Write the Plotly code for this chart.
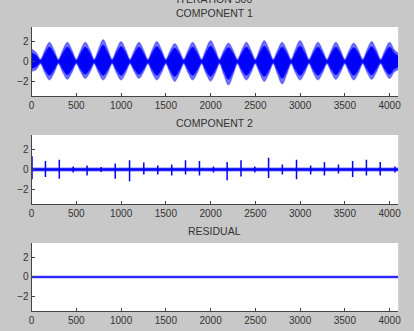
import plotly.graph_objects as go

# ---------------- data ----------------
# Component 1: envelopes of the dense oscillation, sampled every 50 samples
comp1_x = list(range(0, 4051, 50)) + [4096]
# outer (faint fringe) envelope
comp1_upper = [1.25, 0.9, 0.22, 1.15, 1.93, 1.15, 0.22, 1.15, 1.93, 1.15,
               0.22, 1.15, 1.93, 1.2, 0.22, 1.25, 2.2, 1.25, 0.22, 1.2,
               2.0, 1.2, 0.22, 1.15, 1.93, 1.15, 0.22, 1.2, 2.0, 1.2,
               0.22, 1.1, 1.8, 1.1, 0.22, 1.15, 1.93, 1.15, 0.22, 1.25,
               2.1, 1.25, 0.22, 1.15, 1.86, 1.15, 0.22, 1.15, 1.93, 1.15,
               0.22, 1.25, 2.1, 1.25, 0.22, 1.15, 1.93, 1.15, 0.22, 1.25,
               2.1, 1.25, 0.22, 1.15, 1.93, 1.15, 0.22, 1.15, 1.93, 1.15,
               0.22, 1.15, 1.86, 1.15, 0.22, 1.2, 2.0, 1.2, 0.22, 1.15,
               1.93, 1.2, 0.8]
comp1_lower = [-1.0, -0.8, -0.22, -1.15, -1.86, -1.15, -0.22, -1.1, -1.8, -1.1,
               -0.22, -1.05, -1.7, -1.1, -0.22, -1.15, -1.86, -1.15, -0.22, -1.15,
               -1.86, -1.15, -0.22, -1.05, -1.7, -1.05, -0.22, -1.15, -1.86, -1.15,
               -0.22, -1.2, -2.0, -1.2, -0.22, -1.15, -1.86, -1.15, -0.22, -1.2,
               -1.97, -1.2, -0.22, -1.35, -2.37, -1.35, -0.22, -1.15, -1.86, -1.15,
               -0.22, -1.2, -2.0, -1.2, -0.22, -1.3, -2.27, -1.3, -0.22, -1.15,
               -1.86, -1.15, -0.22, -1.15, -1.86, -1.15, -0.22, -1.1, -1.8, -1.1,
               -0.22, -1.15, -1.86, -1.15, -0.22, -1.1, -1.8, -1.1, -0.22, -1.05,
               -1.7, -1.05, -0.8]
# inner (dense core) envelope
comp1_core_upper = [0.9, 0.6, 0.1, 0.82, 1.45, 0.82, 0.1, 0.82, 1.45, 0.82,
                    0.1, 0.82, 1.45, 0.87, 0.1, 0.87, 1.65, 0.87, 0.1, 0.87,
                    1.5, 0.87, 0.1, 0.82, 1.45, 0.82, 0.1, 0.87, 1.5, 0.87,
                    0.1, 0.77, 1.35, 0.77, 0.1, 0.82, 1.45, 0.82, 0.1, 0.87,
                    1.55, 0.87, 0.1, 0.82, 1.4, 0.82, 0.1, 0.82, 1.45, 0.82,
                    0.1, 0.87, 1.55, 0.87, 0.1, 0.82, 1.45, 0.82, 0.1, 0.87,
                    1.55, 0.87, 0.1, 0.82, 1.45, 0.82, 0.1, 0.82, 1.45, 0.82,
                    0.1, 0.82, 1.4, 0.82, 0.1, 0.87, 1.5, 0.87, 0.1, 0.82,
                    1.45, 0.87, 0.55]
comp1_core_lower = [-0.7, -0.5, -0.1, -0.82, -1.4, -0.82, -0.1, -0.77, -1.35, -0.77,
                    -0.1, -0.77, -1.3, -0.77, -0.1, -0.82, -1.4, -0.82, -0.1, -0.82,
                    -1.4, -0.82, -0.1, -0.77, -1.3, -0.77, -0.1, -0.82, -1.4, -0.82,
                    -0.1, -0.87, -1.5, -0.87, -0.1, -0.82, -1.4, -0.82, -0.1, -0.87,
                    -1.5, -0.87, -0.1, -0.97, -1.8, -0.97, -0.1, -0.82, -1.4, -0.82,
                    -0.1, -0.87, -1.5, -0.87, -0.1, -0.92, -1.7, -0.92, -0.1, -0.82,
                    -1.4, -0.82, -0.1, -0.82, -1.4, -0.82, -0.1, -0.77, -1.35, -0.77,
                    -0.1, -0.82, -1.4, -0.82, -0.1, -0.77, -1.35, -0.77, -0.1, -0.77,
                    -1.3, -0.77, -0.55]

# Component 2: baseline band and spikes
comp2_band_x = [0, 4096]
comp2_band_upper = [0.12, 0.12]
comp2_band_lower = [-0.12, -0.12]
comp2_spike_x = [5, 155, 310, 465, 620, 778, 935, 1095, 1254, 1410, 1566, 1720, 1876,
                 2032, 2185, 2340, 2494, 2648, 2802, 2960, 3118, 3272, 3429, 3587,
                 3741, 3895, 4060]
comp2_spike_hi = [1.35, 0.85, 1.0, 0.3, 0.4, 0.25, 0.6, 0.95, 0.7, 0.4, 0.5, 0.95, 0.85,
                  0.3, 0.75, 0.95, 0.3, 1.2, 0.5, 1.0, 0.4, 0.75, 0.5, 0.85,
                  1.0, 0.75, 0.3]
comp2_spike_lo = [-1.0, -0.75, -0.95, -0.3, -0.6, -0.25, -0.95, -1.2, -0.5, -0.5, -0.6, -0.5, -0.6,
                  -0.3, -1.1, -0.7, -0.3, -0.85, -0.5, -1.0, -0.5, -0.6, -0.4, -0.75,
                  -0.6, -0.6, -0.3]

# Residual: thin band
res_x = [0, 4096]
res_upper = [0.09, 0.09]
res_lower = [-0.09, -0.09]

titles = ["ITERATION 500<br>COMPONENT 1", "COMPONENT 2", "RESIDUAL"]
x_ticks = [0, 500, 1000, 1500, 2000, 2500, 3000, 3500, 4000]
y_ticks = [-2, 0, 2]

# ---------------- figure ----------------
BLUE = "rgb(0,0,255)"
FRINGE = "rgba(0,0,255,0.55)"
EDGE = "rgba(0,0,255,0.35)"
fig = go.Figure()


def band(x, up, lo, ax, fill=BLUE, edge=EDGE, shape="linear", edge_w=2.0):
    fig.add_trace(go.Scatter(x=x, y=up, mode="lines", xaxis="x" + ax, yaxis="y" + ax,
                             line=dict(color=edge, width=edge_w, shape=shape, smoothing=1.0),
                             hoverinfo="skip", showlegend=False))
    fig.add_trace(go.Scatter(x=x, y=lo, mode="lines", xaxis="x" + ax, yaxis="y" + ax,
                             fill="tonexty", fillcolor=fill,
                             line=dict(color=edge, width=edge_w, shape=shape, smoothing=1.0),
                             hoverinfo="skip", showlegend=False))


band(comp1_x, comp1_upper, comp1_lower, "", fill=FRINGE, shape="spline", edge_w=1.5)
band(comp1_x, comp1_core_upper, comp1_core_lower, "", fill=BLUE, edge=FRINGE,
     shape="spline", edge_w=1.5)
band(comp2_band_x, comp2_band_upper, comp2_band_lower, "2")

sx, sy = [], []
for c, h, l in zip(comp2_spike_x, comp2_spike_hi, comp2_spike_lo):
    sx += [c, c, None]
    sy += [l, h, None]
fig.add_trace(go.Scatter(x=sx, y=sy, mode="lines", xaxis="x2", yaxis="y2",
                         line=dict(color=BLUE, width=1.5), hoverinfo="skip", showlegend=False))

band(res_x, res_upper, res_lower, "3", edge_w=1.5)

FONT = dict(family="Liberation Sans, Arial, sans-serif", size=10, color="#333")
doms = [(0.71, 0.9184), (0.3837, 0.5921), (0.0604, 0.2659)]
x0, x1 = 0.0700, 0.9686
layout = dict(width=414, height=331, margin=dict(l=0, r=0, t=0, b=0),
              paper_bgcolor="#c8c8c8", plot_bgcolor="white", showlegend=False,
              font=FONT)
for i, d in enumerate(doms):
    s = "" if i == 0 else str(i + 1)
    layout["xaxis" + s] = dict(domain=[x0, x1], range=[0, 4096], anchor="y" + s,
                               tickvals=x_ticks, ticks="inside", ticklen=3,
                               tickcolor="#444", showline=True, linecolor="#444",
                               linewidth=1, showgrid=False, zeroline=False,
                               tickfont=FONT, fixedrange=True)
    layout["yaxis" + s] = dict(domain=list(d), range=[-3.5, 3.5], anchor="x" + s,
                               tickvals=y_ticks, ticks="inside", ticklen=3,
                               tickcolor="#444", showline=True, linecolor="#444",
                               linewidth=1, showgrid=False, zeroline=False,
                               tickfont=FONT, fixedrange=True)

fig.update_layout(**layout)

title_y = [15, 123, 231]
for t, yp in zip(titles, title_y):
    fig.add_annotation(text=t, xref="paper", yref="paper", x=(x0 + x1) / 2,
                       y=1 - yp / 331, yanchor="bottom" if "<br>" in t else "middle",
                       yshift=-6 if "<br>" in t else 0,
                       showarrow=False, font=dict(family=FONT["family"], size=10.5, color="#333"))

fig.write_html("out.html")
